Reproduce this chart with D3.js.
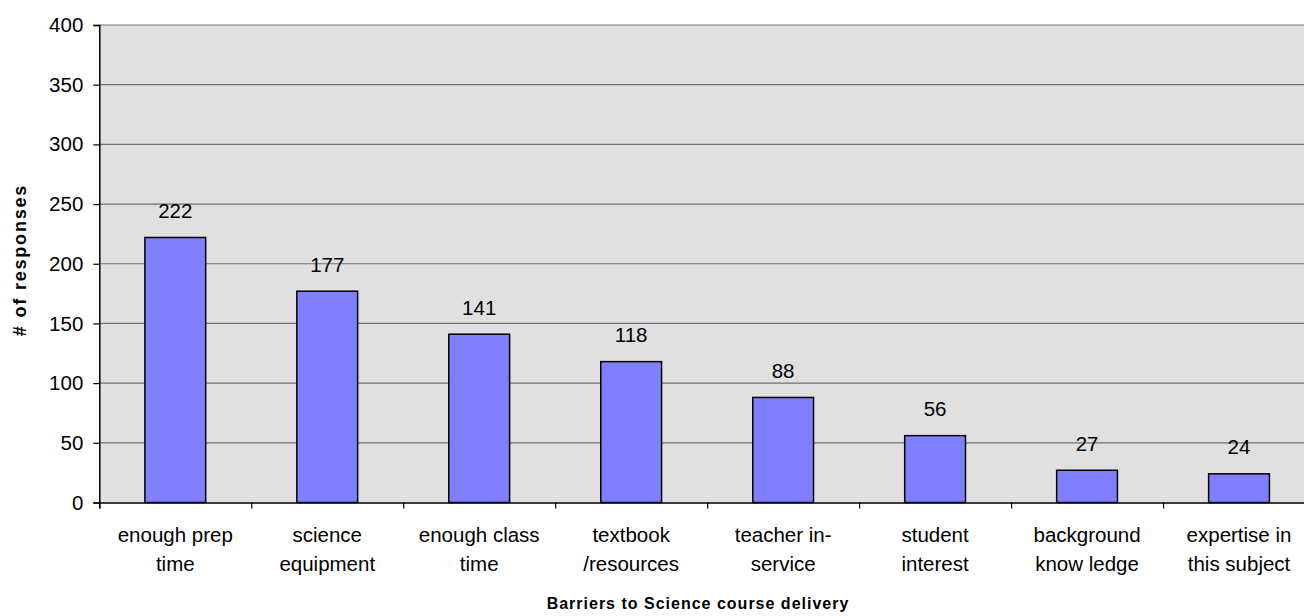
<!DOCTYPE html>
<html><head><meta charset="utf-8">
<script src="https://cdn.jsdelivr.net/npm/d3@7"></script>
<style>body{margin:0;background:#fff;overflow:hidden}svg{display:block;font-family:"Liberation Sans",Arial,sans-serif}</style>
</head><body>
<svg id="c" width="1304" height="616"></svg>
<script>
const categories = [["enough prep","time"],["science","equipment"],["enough class","time"],["textbook","/resources"],["teacher in-","service"],["student","interest"],["background","know ledge"],["expertise in","this subject"]];
const values = [222,177,141,118,88,56,27,24];
const yTicks = [0,50,100,150,200,250,300,350,400];
const yTitle = "# of responses";
const xTitle = "Barriers to Science course delivery";

const svg = d3.select("#c");
const FS = 20.5;
const L = 99.3, R = 1315, T = 25, B = 502.5;
const x = d3.scaleBand().domain(d3.range(values.length)).range([L, R]).paddingInner(0.6).paddingOuter(0.3);
const xb = d3.scaleLinear().domain([0, values.length]).range([L, R]);
const y = d3.scaleLinear().domain([0, 400]).range([B, T]);

svg.append("rect").attr("x", L).attr("y", T).attr("width", R - L).attr("height", B - T).attr("fill", "#e0e0e0");
svg.append("g").selectAll("line").data(yTicks.slice(1)).join("line")
  .attr("x1", L).attr("x2", R).attr("y1", d => y(d)).attr("y2", d => y(d))
  .attr("stroke", "#707070").attr("stroke-width", 1.2);

svg.append("g").selectAll("rect").data(values).join("rect")
  .attr("x", (d, i) => x(i)).attr("width", x.bandwidth())
  .attr("y", d => y(d)).attr("height", d => B - y(d))
  .attr("fill", "#8080ff").attr("stroke", "#000").attr("stroke-width", 1.5);

svg.append("g").selectAll("text").data(values).join("text")
  .attr("x", (d, i) => x(i) + x.bandwidth() / 2).attr("y", d => y(d) - 19.5)
  .attr("text-anchor", "middle").attr("font-size", FS).text(d => d);

// y axis
const ya = svg.append("g").attr("transform", `translate(${L},0)`)
  .call(d3.axisLeft(y).tickValues(yTicks).tickSize(6).tickPadding(10));
ya.select(".domain").attr("stroke", "#000").attr("stroke-width", 1.5);
ya.selectAll(".tick line").attr("stroke", "#000").attr("stroke-width", 1.2);
ya.selectAll("text").attr("font-size", FS).attr("fill", "#000").attr("font-family", "Liberation Sans, Arial, sans-serif");

// x axis
const xa = svg.append("g").attr("transform", `translate(0,${B})`)
  .call(d3.axisBottom(xb).tickValues(d3.range(values.length + 1)).tickSize(6).tickFormat(""));
xa.select(".domain").attr("stroke", "#000").attr("stroke-width", 1.5);
xa.selectAll(".tick line").attr("stroke", "#000").attr("stroke-width", 1.2);

const cl = svg.append("g").selectAll("text").data(categories).join("text")
  .attr("text-anchor", "middle").attr("font-size", FS);
cl.each(function (d, i) {
  const t = d3.select(this);
  d.forEach((s, j) => t.append("tspan").attr("x", x(i) + x.bandwidth() / 2).attr("y", 541.5 + j * 29.5).text(s));
});

svg.append("text").attr("x", 698).attr("y", 609).attr("text-anchor", "middle")
  .attr("font-size", 16).attr("font-weight", "bold").attr("letter-spacing", 1).text(xTitle);
svg.append("text").attr("transform", "translate(26,260) rotate(-90)").attr("text-anchor", "middle")
  .attr("font-size", 18).attr("font-weight", "bold").attr("letter-spacing", 1.8).text(yTitle);
</script>
</body></html>
